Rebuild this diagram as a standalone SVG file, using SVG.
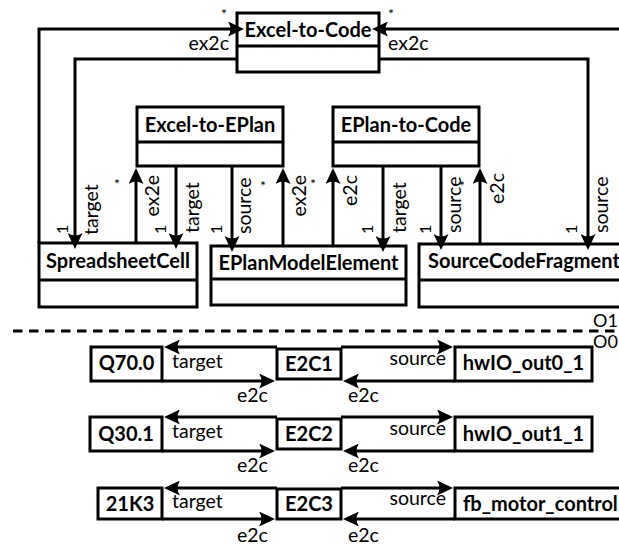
<svg xmlns="http://www.w3.org/2000/svg" width="619" height="545" viewBox="0 0 619 545">
  <style>
    .box { fill: #fff; stroke: #000; stroke-width: 3; }
    .sep { fill: none; stroke: #000; stroke-width: 3; }
    .ln { fill: none; stroke: #000; stroke-width: 3; marker-end: url(#head); }
    .dash { fill: none; stroke: #000; stroke-width: 3; stroke-dasharray: 9.5 6.5; }
    .name { font-family: Lato, "Liberation Sans", sans-serif; font-weight: bold; font-size: 20px; fill: #000; text-anchor: middle; }
    .lbl { font-family: Lato, "Liberation Sans", sans-serif; font-size: 19.5px; fill: #000; }
    .m { font-family: Lato, "Liberation Sans", sans-serif; font-size: 14px; fill: #000; }
    .one { font-family: Lato, "Liberation Sans", sans-serif; font-size: 16px; fill: #000; }
    .lvl { font-family: Lato, "Liberation Sans", sans-serif; font-size: 18px; fill: #000; }
  </style>
  <defs>
    <marker id="head" viewBox="0 0 16 15" refX="12" refY="7.5" markerWidth="16" markerHeight="15" markerUnits="userSpaceOnUse" orient="auto">
      <path d="M16,7.5 L0,0 Q2.5,4 2.5,7.5 Q2.5,11 0,15 Z" fill="#000"/>
    </marker>
  </defs>

  <!-- class level -->
  <g id="excel-to-code">
    <rect class="box" x="237" y="13" width="142" height="59"/>
    <line class="sep" x1="237" y1="46" x2="379" y2="46"/>
    <text class="name" x="308" y="37">Excel-to-Code</text>
  </g>
  <g id="excel-to-eplan">
    <rect class="box" x="137" y="107" width="146" height="59"/>
    <line class="sep" x1="137" y1="142" x2="283" y2="142"/>
    <text class="name" x="210" y="132">Excel-to-EPlan</text>
  </g>
  <g id="eplan-to-code">
    <rect class="box" x="333" y="107" width="146" height="59"/>
    <line class="sep" x1="333" y1="142" x2="479" y2="142"/>
    <text class="name" x="406" y="132">EPlan-to-Code</text>
  </g>
  <g id="spreadsheet-cell">
    <rect class="box" x="39" y="243" width="158" height="64"/>
    <line class="sep" x1="39" y1="280" x2="197" y2="280"/>
    <text class="name" x="118" y="268">SpreadsheetCell</text>
  </g>
  <g id="eplan-model-element">
    <rect class="box" x="211" y="246" width="195" height="59"/>
    <line class="sep" x1="211" y1="279" x2="406" y2="279"/>
    <text class="name" x="308.5" y="270">EPlanModelElement</text>
  </g>
  <g id="source-code-fragment">
    <rect class="box" x="419" y="244" width="206" height="63"/>
    <line class="sep" x1="419" y1="280" x2="625" y2="280"/>
    <text class="name" x="428" y="268" style="text-anchor:start">SourceCodeFragment</text>
  </g>

  <!-- object level -->
  <g id="q70-0">
    <rect class="box" x="91" y="347" width="71" height="34"/>
    <text class="name" x="126.5" y="370">Q70.0</text>
  </g>
  <g id="e2c1">
    <rect class="box" x="277" y="349" width="64" height="30"/>
    <text class="name" x="309" y="371">E2C1</text>
  </g>
  <g id="hwio-out0-1">
    <rect class="box" x="455" y="347" width="137" height="34"/>
    <text class="name" x="523.5" y="370">hwIO_out0_1</text>
  </g>
  <g id="q30-1">
    <rect class="box" x="90" y="417" width="72" height="34"/>
    <text class="name" x="126" y="441">Q30.1</text>
  </g>
  <g id="e2c2">
    <rect class="box" x="277" y="419" width="64" height="30"/>
    <text class="name" x="309" y="441">E2C2</text>
  </g>
  <g id="hwio-out1-1">
    <rect class="box" x="455" y="417" width="137" height="34"/>
    <text class="name" x="523.5" y="441">hwIO_out1_1</text>
  </g>
  <g id="k21k3">
    <rect class="box" x="98" y="488" width="64" height="31"/>
    <text class="name" x="130" y="511">21K3</text>
  </g>
  <g id="e2c3">
    <rect class="box" x="277" y="489" width="64" height="30"/>
    <text class="name" x="309" y="511">E2C3</text>
  </g>
  <g id="fb-motor-control">
    <rect class="box" x="455" y="488" width="170" height="31"/>
    <text class="name" x="463" y="511" style="text-anchor:start">fb_motor_control</text>
  </g>

  <!-- level separator -->
  <line class="dash" x1="13" y1="331" x2="619" y2="331"/>
  <text class="lvl" x="593" y="327">O1</text>
  <text class="lvl" x="593" y="348">O0</text>

  <g id="connectors">
    <!-- Excel-to-Code links -->
    <path class="ln" d="M39,243 V29 H240"/>
    <path class="ln" d="M237,59 H75 V245"/>
    <path class="ln" d="M640,244 V29 H376"/>
    <path class="ln" d="M379,59 H588 V246"/>
    <!-- Excel-to-EPlan links -->
    <path class="ln" d="M136,243 V172"/>
    <path class="ln" d="M176,166 V245"/>
    <path class="ln" d="M232,166 V248"/>
    <path class="ln" d="M283,246 V172"/>
    <!-- EPlan-to-Code links -->
    <path class="ln" d="M333,246 V172"/>
    <path class="ln" d="M383,166 V248"/>
    <path class="ln" d="M441,166 V246"/>
    <path class="ln" d="M480,244 V172"/>
    <!-- object links, row 1 -->
    <path class="ln" d="M277,347 H168"/>
    <path class="ln" d="M162,381 H271"/>
    <path class="ln" d="M341,347 H449"/>
    <path class="ln" d="M455,381 H347"/>
    <!-- row 2 -->
    <path class="ln" d="M277,417 H168"/>
    <path class="ln" d="M162,451 H271"/>
    <path class="ln" d="M341,417 H449"/>
    <path class="ln" d="M455,451 H347"/>
    <!-- row 3 -->
    <path class="ln" d="M277,488 H168"/>
    <path class="ln" d="M162,519 H271"/>
    <path class="ln" d="M341,488 H449"/>
    <path class="ln" d="M455,519 H347"/>

    <!-- role names and multiplicities, class level -->
    <text class="lbl" x="229" y="50" text-anchor="end">ex2c</text>
    <text class="lbl" x="388" y="50">ex2c</text>
    <text class="m" x="224" y="19" text-anchor="middle">*</text>
    <text class="m" x="391" y="19" text-anchor="middle">*</text>

    <text class="lbl" transform="translate(98,235) rotate(-90)">target</text>
    <text class="one" transform="translate(68,234) rotate(-90)">1</text>

    <text class="lbl" transform="translate(159,175) rotate(-90)" text-anchor="end">ex2e</text>
    <text class="m" x="117" y="189" text-anchor="middle">*</text>

    <text class="lbl" transform="translate(199,233) rotate(-90)">target</text>
    <text class="one" transform="translate(166,234) rotate(-90)">1</text>

    <text class="lbl" transform="translate(251,234) rotate(-90)">source</text>
    <text class="one" transform="translate(222,234) rotate(-90)">1</text>

    <text class="lbl" transform="translate(306,175) rotate(-90)" text-anchor="end">ex2e</text>
    <text class="m" x="263" y="191" text-anchor="middle">*</text>

    <text class="lbl" transform="translate(357,175) rotate(-90)" text-anchor="end">e2c</text>
    <text class="m" x="313" y="189" text-anchor="middle">*</text>

    <text class="lbl" transform="translate(406,233) rotate(-90)">target</text>
    <text class="one" transform="translate(373,234) rotate(-90)">1</text>

    <text class="lbl" transform="translate(461,233) rotate(-90)">source</text>
    <text class="one" transform="translate(431,234) rotate(-90)">1</text>

    <text class="lbl" transform="translate(504,173) rotate(-90)" text-anchor="end">e2c</text>
    <text class="m" x="462" y="191" text-anchor="middle">*</text>

    <text class="lbl" transform="translate(608,233) rotate(-90)">source</text>
    <text class="one" transform="translate(577,234) rotate(-90)">1</text>

    <!-- role names, object level -->
    <text class="lbl" x="172" y="368">target</text>
    <text class="lbl" x="237" y="402">e2c</text>
    <text class="lbl" x="446" y="365" text-anchor="end">source</text>
    <text class="lbl" x="348" y="402">e2c</text>

    <text class="lbl" x="172" y="438">target</text>
    <text class="lbl" x="237" y="472">e2c</text>
    <text class="lbl" x="446" y="435" text-anchor="end">source</text>
    <text class="lbl" x="348" y="472">e2c</text>

    <text class="lbl" x="172" y="508">target</text>
    <text class="lbl" x="237" y="542">e2c</text>
    <text class="lbl" x="446" y="505" text-anchor="end">source</text>
    <text class="lbl" x="348" y="542">e2c</text>
  </g>
</svg>
